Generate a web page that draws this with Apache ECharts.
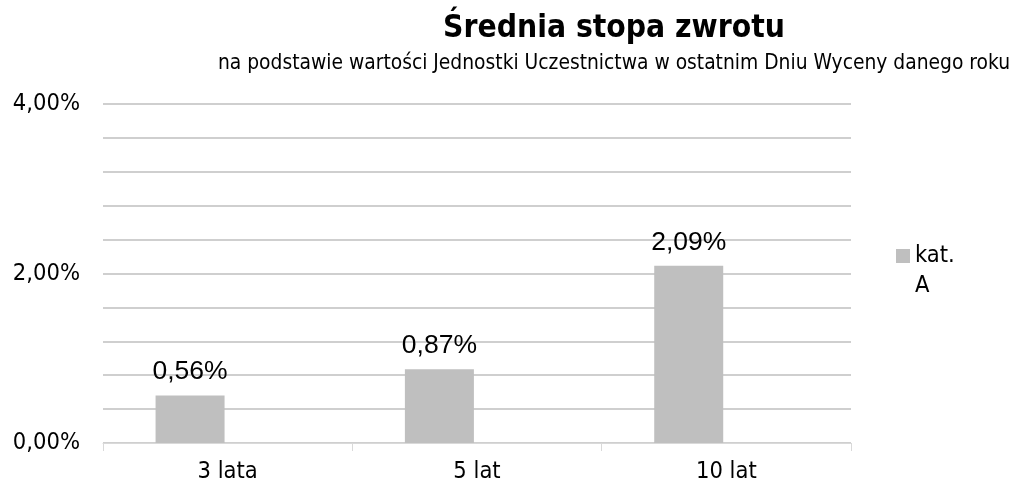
<!DOCTYPE html>
<html>
<head>
<meta charset="utf-8">
<script src="https://cdn.jsdelivr.net/npm/echarts@6/dist/echarts.min.js"></script>
<style>
  html, body { margin: 0; padding: 0; background: #fff; }
  #chart { width: 1016px; height: 487px; }
</style>
</head>
<body>
<div id="chart"></div>
<script>
// Average rate of return per period
const categories = ['3 lata', '5 lat', '10 lat'];
const seriesName = 'kat. A';
const values = [0.56, 0.87, 2.09];
// second slot of each cluster is empty
const emptyName = 'kat. B';
const emptyValues = [null, null, null];
const yTickLabels = [0, 2, 4]; // labelled ticks; others are unlabelled gridlines

const fmtPct = v => v.toFixed(2).replace('.', ',') + '%';
const FONT = 'DejaVu Sans Condensed';

const chart = echarts.init(document.getElementById('chart'));
chart.setOption({
  animation: false,
  title: [{
    text: 'Średnia stopa zwrotu',
    left: 614,
    textAlign: 'center',
    top: 13,
    padding: 0,
    textStyle: { fontFamily: FONT, fontWeight: 'bold', fontSize: 31.5, color: '#000' }
  }, {
    text: 'na podstawie wartości Jednostki Uczestnictwa w ostatnim Dniu Wyceny danego roku',
    left: 614,
    textAlign: 'center',
    top: 53,
    padding: 0,
    textStyle: { fontFamily: FONT, fontWeight: 'normal', fontSize: 20.8, color: '#000' }
  }],
  legend: {
    data: [seriesName],
    left: 896,
    top: 211,
    padding: 0,
    orient: 'vertical',
    icon: 'rect',
    itemWidth: 14,
    itemHeight: 14,
    // leading blank line keeps the first text line level with the swatch
    formatter: name => '\u00a0\n' + name.replace(' ', '\n'),
    textStyle: { fontFamily: FONT, fontSize: 23.5, color: '#000', lineHeight: 30 }
  },
  grid: { left: 103, right: 165, top: 104, bottom: 44, containLabel: false },
  xAxis: {
    type: 'category',
    data: categories,
    axisLine: { show: true, lineStyle: { color: '#d9d9d9', width: 1 } },
    axisTick: { show: true, length: 8, lineStyle: { color: '#d9d9d9', width: 1 } },
    axisLabel: { fontFamily: FONT, fontSize: 23.5, color: '#000', margin: 17 }
  },
  yAxis: {
    type: 'value',
    min: 0,
    max: 4,
    interval: 0.4,
    axisLine: { show: false },
    axisTick: { show: false },
    splitLine: { show: true, lineStyle: { color: '#bfbfbf', width: 1.5 } },
    axisLabel: {
      fontFamily: FONT,
      fontSize: 23.5,
      color: '#000',
      margin: 23,
      formatter: v => {
        const r = Math.round(v * 100) / 100;
        return yTickLabels.includes(r) ? fmtPct(r) : '';
      }
    }
  },
  series: [{
    name: seriesName,
    type: 'bar',
    data: values,
    barWidth: 69,
    barGap: '9%',
    itemStyle: { color: '#bfbfbf' },
    label: {
      show: true,
      position: 'top',
      distance: 10,
      fontFamily: 'Liberation Sans',
      fontSize: 26.5,
      color: '#000',
      formatter: p => fmtPct(p.value)
    }
  }, {
    name: emptyName,
    type: 'bar',
    data: emptyValues,
    barWidth: 69,
    itemStyle: { color: '#808080' }
  }]
});
</script>
</body>
</html>
